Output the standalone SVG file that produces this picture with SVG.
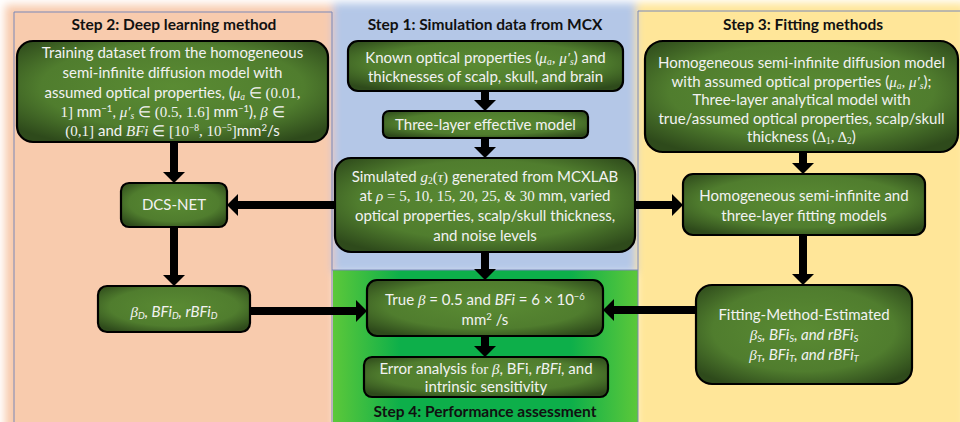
<svg xmlns="http://www.w3.org/2000/svg" width="960" height="422" viewBox="0 0 960 422">
<defs>
<filter id="soft" x="-5%" y="-5%" width="110%" height="110%"><feGaussianBlur stdDeviation="4"/></filter>
<radialGradient id="ng" cx="50%" cy="45%" r="65%">
<stop offset="0" stop-color="#5A8B33"/><stop offset="0.65" stop-color="#507D2E"/><stop offset="1" stop-color="#2E4A1B"/>
</radialGradient>
<linearGradient id="gg" x1="0" y1="0" x2="1" y2="0">
<stop offset="0" stop-color="#5CC83A"/><stop offset="0.22" stop-color="#0DAF4A"/><stop offset="0.78" stop-color="#0DAF4A"/><stop offset="1" stop-color="#5CC83A"/>
</linearGradient>
<marker id="ah" markerUnits="userSpaceOnUse" markerWidth="12" markerHeight="24" viewBox="0 -12 12 24" refX="0" refY="0" orient="auto">
<path d="M0,-11 L11,0 L0,11 z" fill="#000"/>
</marker>
<style>
.nd{fill:url(#ng);stroke:#000;stroke-width:2.2}
.t{font-family:Lato,"Liberation Sans",sans-serif;font-size:15px;fill:#F2F2F2;text-anchor:middle}
.h{font-family:Lato,"Liberation Sans",sans-serif;font-size:15.5px;font-weight:bold;fill:#111;text-anchor:middle}
.m{font-family:"Liberation Serif",serif;font-style:italic}
.r{font-family:"Liberation Serif",serif}
.i{font-style:italic}
.s{font-size:9.5px}
.c{fill:none;stroke:#000;stroke-width:8;marker-end:url(#ah)}
.bl{fill:none;stroke:#7A88B8;stroke-width:1}
</style>
</defs>
<rect width="960" height="422" fill="#fff"/>
<g id="panels">
<g filter="url(#soft)">
<rect x="5" y="5" width="330" height="430" fill="#F8CBAD"/>
<rect x="333" y="3" width="303" height="270" fill="#B4C7E7"/>
<rect x="636" y="3" width="330" height="430" fill="#FFE699"/>
</g>
<rect x="333" y="270" width="305" height="160" fill="url(#gg)"/>
<path class="bl" d="M14,422 V12 H332 V422"/>
<path class="bl" d="M638,422 V11 H960"/>
<path class="bl" d="M332,270 H638"/>
<text class="h" x="174" y="30">Step 2: Deep learning method</text>
<text class="h" x="485" y="30">Step 1: Simulation data from MCX</text>
<text class="h" x="803" y="30">Step 3: Fitting methods</text>
<text class="h" x="485" y="417">Step 4: Performance assessment</text>
</g>
<g id="connectors">
<path class="c" d="M174,142 V172"/>
<path class="c" d="M174,227 V275"/>
<path class="c" d="M335,205 H238"/>
<path class="c" d="M250,311 H356"/>
<path class="c" d="M485,91 V100"/>
<path class="c" d="M485,138 V147"/>
<path class="c" d="M485,252 V269"/>
<path class="c" d="M485,336 V346"/>
<path class="c" d="M635,205 H672"/>
<path class="c" d="M803,152 V163"/>
<path class="c" d="M803,235 V274"/>
<path class="c" d="M696,310 H614"/>
</g>
<g id="training">
<rect class="nd" x="17" y="41" width="311" height="101" rx="16"/>
<text class="t" x="172.5" y="58">Training dataset from the homogeneous</text>
<text class="t" x="172.5" y="78">semi-infinite diffusion model with</text>
<text class="t" x="172.5" y="98">assumed optical properties, (<tspan class="m">μ<tspan class="s" dy="2">a</tspan></tspan><tspan class="r" dy="-2"> ∈ (0.01,</tspan></text>
<text class="t" x="172.5" y="117"><tspan class="r">1] </tspan>mm<tspan class="s" dy="-5">−1</tspan><tspan dy="5">, </tspan><tspan class="m">μ′<tspan class="s" dy="2">s</tspan></tspan><tspan class="r" dy="-2"> ∈ (0.5, 1.6] </tspan>mm<tspan class="s" dy="-5">−1</tspan><tspan dy="5">), </tspan><tspan class="m">β</tspan><tspan class="r"> ∈</tspan></text>
<text class="t" x="172.5" y="136"><tspan class="r">(0,1]</tspan> and <tspan class="m">BFi</tspan><tspan class="r">  ∈ [10<tspan class="s" dy="-5">−8</tspan><tspan dy="5">, 10</tspan><tspan class="s" dy="-5">−5</tspan><tspan dy="5">]</tspan></tspan>mm<tspan class="s" dy="-5">2</tspan><tspan dy="5">/s</tspan></text>
</g>
<g id="dcsnet">
<rect class="nd" x="121" y="183" width="106" height="44" rx="8"/>
<text class="t" x="174" y="210">DCS-NET</text>
</g>
<g id="betaD">
<rect class="nd" x="98" y="286" width="152" height="46" rx="9"/>
<text class="t i" x="174" y="317"><tspan class="m">β</tspan><tspan class="s" dy="2">D</tspan><tspan dy="-2">, BFi</tspan><tspan class="s" dy="2">D</tspan><tspan dy="-2">, rBFi</tspan><tspan class="s" dy="2">D</tspan></text>
</g>
<g id="known">
<rect class="nd" x="348" y="41" width="275" height="50" rx="10"/>
<text class="t" x="485.5" y="63">Known optical properties (<tspan class="m">μ<tspan class="s" dy="2">a</tspan><tspan dy="-2">, μ′</tspan><tspan class="s" dy="2">s</tspan></tspan><tspan dy="-2">) and</tspan></text>
<text class="t" x="485.5" y="82">thicknesses of scalp, skull, and brain</text>
</g>
<g id="threelayer">
<rect class="nd" x="383" y="111" width="205" height="27" rx="6"/>
<text class="t" x="485.5" y="130">Three-layer effective model</text>
</g>
<g id="simulated">
<rect class="nd" x="335" y="158" width="300" height="94" rx="16"/>
<text class="t" x="485" y="182">Simulated <tspan class="m">g</tspan><tspan class="r s" dy="2">2</tspan><tspan class="r" dy="-2">(</tspan><tspan class="m">τ</tspan><tspan class="r">)</tspan> generated from MCXLAB</text>
<text class="t" x="485" y="201">at <tspan class="m">ρ</tspan><tspan class="r"> = 5, 10, 15, 20, 25, &amp; 30</tspan> mm, varied</text>
<text class="t" x="485" y="221">optical properties, scalp/skull thickness,</text>
<text class="t" x="485" y="241">and noise levels</text>
</g>
<g id="truebeta">
<rect class="nd" x="367" y="280" width="236" height="56" rx="10"/>
<text class="t" x="485" y="305">True <tspan class="m">β</tspan> = 0.5 and <tspan class="i">BFi</tspan> = 6 × 10<tspan class="s" dy="-5">−6</tspan></text>
<text class="t" x="485" y="325">mm<tspan class="s" dy="-5">2</tspan><tspan dy="5"> /s</tspan></text>
</g>
<g id="error">
<rect class="nd" x="364" y="357" width="244" height="40" rx="8"/>
<text class="t" x="486" y="374">Error analysis  <tspan class="r">for </tspan><tspan class="m">β</tspan>, BFi, <tspan class="i">rBFi</tspan>, and</text>
<text class="t" x="486" y="392">intrinsic sensitivity</text>
</g>
<g id="homog">
<rect class="nd" x="645" y="41" width="313" height="111" rx="18"/>
<text class="t" x="801.5" y="68">Homogeneous semi-infinite diffusion model</text>
<text class="t" x="801.5" y="86.5">with assumed optical properties (<tspan class="m">μ<tspan class="s" dy="2">a</tspan><tspan dy="-2">, μ′</tspan><tspan class="s" dy="2">s</tspan></tspan><tspan dy="-2">);</tspan></text>
<text class="t" x="801.5" y="105">Three-layer analytical model with</text>
<text class="t" x="801.5" y="123.5">true/assumed optical properties, scalp/skull</text>
<text class="t" x="801.5" y="142">thickness (<tspan class="r">Δ</tspan><tspan class="r s" dy="2">1</tspan><tspan class="r" dy="-2">, Δ</tspan><tspan class="r s" dy="2">2</tspan><tspan dy="-2">)</tspan></text>
</g>
<g id="fitmodels">
<rect class="nd" x="683" y="174" width="242" height="61" rx="10"/>
<text class="t" x="804" y="201">Homogeneous semi-infinite and</text>
<text class="t" x="804" y="221">three-layer fitting models</text>
</g>
<g id="estimated">
<rect class="nd" x="696" y="285" width="216" height="99" rx="16"/>
<text class="t" x="804" y="320">Fitting-Method-Estimated</text>
<text class="t i" x="804" y="340"><tspan class="m">β</tspan><tspan class="s" dy="2">S</tspan><tspan dy="-2">, BFi</tspan><tspan class="s" dy="2">S</tspan><tspan dy="-2">, and rBFi</tspan><tspan class="s" dy="2">S</tspan></text>
<text class="t i" x="804" y="360"><tspan class="m">β</tspan><tspan class="s" dy="2">T</tspan><tspan dy="-2">, BFi</tspan><tspan class="s" dy="2">T</tspan><tspan dy="-2">, and rBFi</tspan><tspan class="s" dy="2">T</tspan></text>
</g>
</svg>
